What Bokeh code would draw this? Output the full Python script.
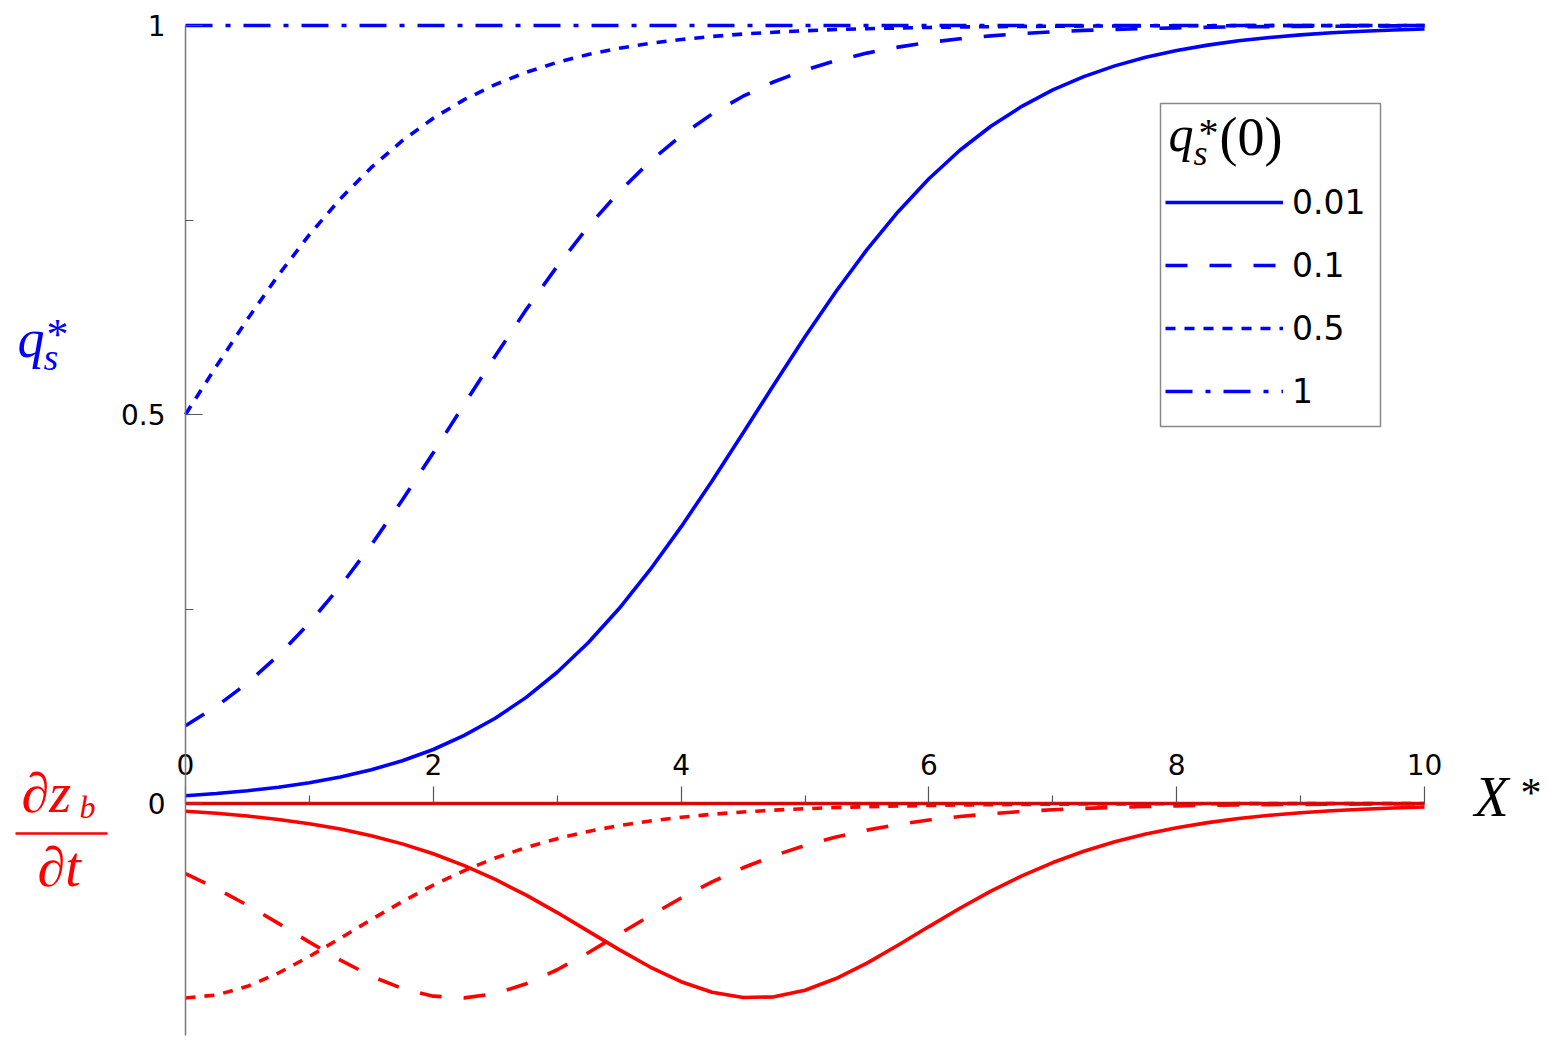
from bokeh.plotting import figure
from bokeh.models import (LinearAxis, FixedTicker, Range1d, Label, Legend,
                          LegendItem)
from bokeh.embed import file_html
from bokeh.resources import INLINE

# ---------------- data ----------------
x_star = [0, 0.25, 0.5, 0.75, 1, 1.25, 1.5, 1.75, 2, 2.25, 2.5, 2.75, 3,
          3.25, 3.5, 3.75, 4, 4.25, 4.5, 4.75, 5, 5.25, 5.5, 5.75, 6, 6.25,
          6.5, 6.75, 7, 7.25, 7.5, 7.75, 8, 8.25, 8.5, 8.75, 9, 9.25, 9.5,
          9.75, 10]

qs_001 = [0.0100, 0.0128, 0.0164, 0.0209, 0.0267, 0.0341, 0.0433, 0.0549,
          0.0694, 0.0875, 0.1096, 0.1364, 0.1687, 0.2067, 0.2506, 0.3005,
          0.3555, 0.4146, 0.4762, 0.5386, 0.5998, 0.6581, 0.7119, 0.7604,
          0.8030, 0.8396, 0.8705, 0.8961, 0.9172, 0.9343, 0.9481, 0.9591,
          0.9679, 0.9748, 0.9803, 0.9846, 0.9880, 0.9906, 0.9926, 0.9943,
          0.9955]
qs_01 = [0.1000, 0.1249, 0.1548, 0.1904, 0.2320, 0.2794, 0.3324, 0.3900,
         0.4509, 0.5132, 0.5751, 0.6349, 0.6905, 0.7413, 0.7863, 0.8253,
         0.8585, 0.8863, 0.9091, 0.9277, 0.9428, 0.9549, 0.9645, 0.9722,
         0.9782, 0.9829, 0.9867, 0.9896, 0.9919, 0.9937, 0.9950, 0.9961,
         0.9970, 0.9977, 0.9982, 0.9986, 0.9989, 0.9991, 0.9993, 0.9995,
         0.9996]
qs_05 = [0.5000, 0.5622, 0.6225, 0.6792, 0.7311, 0.7773, 0.8176, 0.8519,
         0.8808, 0.9047, 0.9241, 0.9399, 0.9526, 0.9627, 0.9707, 0.9770,
         0.9820, 0.9859, 0.9890, 0.9914, 0.9933, 0.9948, 0.9959, 0.9968,
         0.9975, 0.9981, 0.9985, 0.9988, 0.9991, 0.9993, 0.9994, 0.9996,
         0.9997, 0.9997, 0.9998, 0.9998, 0.9999, 0.9999, 0.9999, 0.9999,
         1.0000]
x_flat = [0, 10]
qs_1 = [1.0, 1.0]

dz_001 = [-0.0099, -0.0126, -0.0161, -0.0205, -0.0260, -0.0329, -0.0414,
          -0.0519, -0.0646, -0.0798, -0.0976, -0.1178, -0.1402, -0.1640,
          -0.1878, -0.2102, -0.2291, -0.2427, -0.2494, -0.2485, -0.2400,
          -0.2250, -0.2051, -0.1822, -0.1582, -0.1347, -0.1127, -0.0931,
          -0.0759, -0.0614, -0.0492, -0.0392, -0.0311, -0.0246, -0.0193,
          -0.0152, -0.0119, -0.0093, -0.0073, -0.0057, -0.0045]
dz_01 = [-0.0900, -0.1093, -0.1308, -0.1541, -0.1782, -0.2013, -0.2219,
         -0.2379, -0.2476, -0.2498, -0.2444, -0.2318, -0.2137, -0.1918,
         -0.1680, -0.1442, -0.1215, -0.1008, -0.0826, -0.0671, -0.0539,
         -0.0431, -0.0342, -0.0270, -0.0213, -0.0168, -0.0131, -0.0103,
         -0.0080, -0.0063, -0.0050, -0.0039, -0.0030, -0.0023, -0.0018,
         -0.0014, -0.0011, -0.0009, -0.0007, -0.0005, -0.0004]
dz_05 = [-0.2500, -0.2461, -0.2350, -0.2179, -0.1966, -0.1731, -0.1491,
         -0.1262, -0.1050, -0.0862, -0.0701, -0.0565, -0.0452, -0.0359,
         -0.0284, -0.0225, -0.0177, -0.0139, -0.0109, -0.0085, -0.0067,
         -0.0052, -0.0041, -0.0032, -0.0025, -0.0019, -0.0015, -0.0012,
         -0.0009, -0.0007, -0.0006, -0.0004, -0.0003, -0.0003, -0.0002,
         -0.0002, -0.0001, -0.0001, -0.0001, -0.0001, 0.0000]
dz_1 = [0.0, 0.0]

legend_labels = ["0.01", "0.1", "0.5", "1"]
x_ticks = [0, 2, 4, 6, 8, 10]
x_minor = [1, 3, 5, 7, 9]
y_ticks = [0, 0.5, 1]
y_minor = [0.25, 0.75]

# ---------------- styling ----------------
W, H = 1542, 1036
BLUE = "#0000ff"
RED = "#ff0000"
LW = 3.6
SERIF = "Liberation Serif"
SANS = "DejaVu Sans"
DASHES = [None, "22 22", "10 9", "27 13 5 13"]

# pixel -> data helpers (the frame covers the whole canvas)
def dx(sx):
    return (sx - 185.0) / 123.9

def dy(sy):
    return (803.0 - sy) / 778.0

p = figure(width=W, height=H, x_range=Range1d(dx(0), dx(W)),
           y_range=Range1d(dy(H), dy(0)), output_backend="svg",
           toolbar_location=None, x_axis_location=None,
           y_axis_location=None, min_border=0, min_border_left=0,
           min_border_right=0, min_border_top=0, min_border_bottom=0)
p.outline_line_color = None
p.background_fill_color = "white"
p.border_fill_color = "white"
p.grid.grid_line_color = None
p.grid.visible = False

# legend frame (drawn as a plain box; the legend itself is transparent)
p.quad(left=[dx(1160)], right=[dx(1380)], top=[dy(103)], bottom=[dy(426)],
       fill_color="white", fill_alpha=1.0, line_color="#888888",
       line_width=1.5)

blue_series = [qs_001, qs_01, qs_05]
red_series = [dz_001, dz_01, dz_05]
blue_r = []
for ys, dash in zip(blue_series, DASHES[:3]):
    kw = {} if dash is None else {"line_dash": dash}
    blue_r.append(p.line(x_star, ys, line_color=BLUE, line_width=LW, **kw))
blue_r.append(p.line(x_flat, qs_1, line_color=BLUE, line_width=LW,
                     line_dash=DASHES[3]))
for ys, dash in zip(red_series, DASHES[:3]):
    kw = {} if dash is None else {"line_dash": dash}
    p.line(x_star, ys, line_color=RED, line_width=LW, **kw)
p.line(x_flat, dz_1, line_color=RED, line_width=LW)


def style_axis(ax):
    ax.axis_line_width = 1.5
    ax.major_tick_line_color = "#555555"
    ax.minor_tick_line_color = "#555555"
    ax.major_tick_line_width = 1.2
    ax.minor_tick_line_width = 1.2
    ax.major_label_text_font = SANS
    ax.major_label_text_font_size = "28px"
    ax.major_label_text_color = "black"


# y axis at x = 0 (ticks inward)
yax = LinearAxis(fixed_location=0, bounds=(dy(1035), 1.0),
                 ticker=FixedTicker(ticks=y_ticks, minor_ticks=y_minor),
                 major_label_overrides={0: "0", 0.5: "0.5", 1: "1"})
style_axis(yax)
yax.axis_line_color = "#777777"
yax.major_tick_in = 17
yax.major_tick_out = 0
yax.minor_tick_in = 8
yax.minor_tick_out = 0
yax.major_label_standoff = 20
p.add_layout(yax, "left")

# x axis at y = 0 with labels above
xax = LinearAxis(fixed_location=0, bounds=(0, 10),
                 ticker=FixedTicker(ticks=x_ticks, minor_ticks=x_minor))
style_axis(xax)
xax.axis_line_color = "#663333"
xax.major_tick_in = 0
xax.major_tick_out = 17
xax.minor_tick_in = 0
xax.minor_tick_out = 8
xax.major_label_standoff = 12
p.add_layout(xax, "above")

# legend (transparent; its frame is the box above)
legend = Legend(
    items=[LegendItem(label=lab, renderers=[r])
           for lab, r in zip(legend_labels, blue_r)],
    location=(1165, H - 420), title=" ", title_text_font_size="48px",
    title_standoff=9, label_text_font=SANS, label_text_font_size="33px",
    label_text_color="black",
    glyph_width=118, glyph_height=58, label_height=58, label_width=80,
    label_standoff=9, spacing=5, padding=5, margin=0,
    border_line_color=None, background_fill_alpha=0.0)
p.add_layout(legend)


def lab(text, sx, sy, size, color="black", style="italic"):
    # sy is the wanted baseline in picture pixels
    p.add_layout(Label(x=dx(sx), y=dy(sy - 0.37 * size), text=text,
                       text_font=SERIF, text_font_style=style,
                       text_font_size=f"{size}px", text_color=color,
                       text_align="left", text_baseline="alphabetic"))

# legend title  q*_s(0)
lab("q", 1168, 152, 50)
lab("s", 1193, 166, 36)
lab("*", 1198, 147, 40, style="normal")
lab("(0)", 1219, 156, 54, style="normal")

# y label q*_s (blue)
lab("q", 17, 358, 54, BLUE)
lab("s", 43, 371, 38, BLUE)
lab("*", 46, 350, 44, BLUE, style="normal")

# red fraction dz_b/dt
lab("\u2202z", 21, 813, 56, RED)
lab("b", 79, 818, 32, RED)
p.segment(x0=[dx(15)], y0=[dy(833)], x1=[dx(107)], y1=[dy(833)],
          line_color=RED, line_width=2.6)
lab("\u2202t", 37, 887, 56, RED)

# X* label
lab("X", 1474, 817, 56)
lab("*", 1520, 808, 42, style="normal")

open("out.html", "w").write(file_html(p, INLINE))
